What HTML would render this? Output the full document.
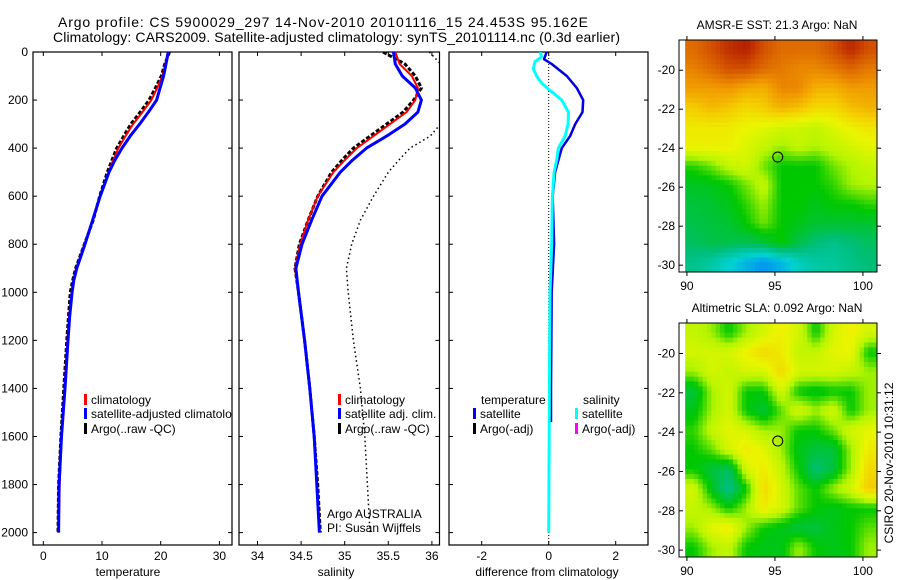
<!DOCTYPE html>
<html><head><meta charset="utf-8">
<style>
html,body{margin:0;padding:0;background:#fff;}
svg{display:block;font-family:"Liberation Sans",sans-serif;}
</style></head>
<body>
<svg id="fig" width="900" height="580" viewBox="0 0 900 580">
<text x="58" y="27" font-size="14" textLength="530">Argo profile: CS 5900029_297 14-Nov-2010 20101116_15 24.453S 95.162E</text>
<text x="53" y="42" font-size="14" textLength="567">Climatology: CARS2009. Satellite-adjusted climatology: synTS_20101114.nc (0.3d earlier)</text>
<g id="g"></g>
</svg>
<script>
// ---------- data ----------
const depths = [0,50,100,150,200,250,300,350,400,450,500,600,700,800,900,1000,1200,1400,1600,1800,2000];
const tempDepths = [0,50,100,150,200,250,300,350,400,450,500,600,700,800,900,950,1000,1100,1200,1400,1600,1800,2000];
const tempClim = [21.2,20.8,20.3,19.4,18.4,16.9,15.3,14.0,12.8,11.9,11.1,9.7,8.4,7.0,5.6,5.1,4.8,4.4,4.1,3.6,3.1,2.8,2.6];
const tempSat  = [21.3,20.9,20.5,19.9,19.3,17.9,16.4,14.8,13.4,12.2,11.2,9.7,8.4,7.1,5.7,5.2,4.9,4.5,4.2,3.7,3.1,2.7,2.6];
const tempArgo = [21.5,20.7,20.1,19.1,18.0,16.5,14.9,13.7,12.5,11.7,10.9,9.6,8.5,7.0,5.5,5.0,4.6,4.3,4.0,3.5,3.0,2.6,2.5];
const salClim = [35.58,35.63,35.77,35.84,35.81,35.71,35.52,35.33,35.14,35.0,34.87,34.69,34.58,34.49,34.43,34.47,34.54,34.60,34.65,34.68,34.71];
const salSat  = [35.56,35.58,35.66,35.81,35.88,35.84,35.69,35.48,35.25,35.09,34.95,34.74,34.62,34.51,34.44,34.47,34.54,34.60,34.65,34.68,34.71];
const salArgo = [35.44,35.69,35.81,35.88,35.79,35.67,35.48,35.29,35.10,34.97,34.85,34.69,34.58,34.48,34.43,34.47,34.54,34.60,34.65,34.69,34.72];
const salDotted = [35.97,36.1,36.3,36.3,36.25,36.18,36.1,35.98,35.75,35.62,35.5,35.33,35.18,35.08,35.02,35.04,35.1,35.18,35.23,35.26,35.29];
const tDiffDepths = [0,30,50,100,150,200,250,300,350,400,450,500,600,800,1000,1400,1540];
const tDiffSat = [-0.06,-0.14,0.09,0.54,0.84,1.03,1.01,0.79,0.64,0.39,0.29,0.19,0.12,0.16,0.09,0.07,0.07];
const sDiffDepths = [0,20,40,70,100,130,160,200,250,300,350,400,450,500,600,800,1000,1400,2000];
const sDiffSat = [-0.26,-0.21,-0.41,-0.46,-0.36,-0.21,0.04,0.39,0.59,0.58,0.49,0.29,0.24,0.16,0.11,0.09,0.04,0.02,0.0];
const depthTicks = [0,200,400,600,800,1000,1200,1400,1600,1800,2000];
const tempTicks = [0,10,20,30];
const salTicks = [34,34.5,35,35.5,36];
const diffTicks = [-2,0,2];
const latTicks = [-20,-22,-24,-26,-28,-30];
const lonTicks = [90,95,100];
const sstGrid = [
 [0.86,0.9,0.94,0.96,0.9,0.86,0.86,0.86,0.9,0.95,0.9],
 [0.83,0.86,0.9,0.9,0.86,0.84,0.82,0.82,0.84,0.87,0.84],
 [0.79,0.79,0.8,0.77,0.76,0.82,0.82,0.76,0.76,0.79,0.79],
 [0.72,0.75,0.73,0.7,0.72,0.76,0.74,0.7,0.7,0.74,0.76],
 [0.67,0.67,0.67,0.65,0.64,0.62,0.61,0.6,0.63,0.66,0.68],
 [0.66,0.66,0.66,0.63,0.6,0.57,0.6,0.58,0.6,0.62,0.64],
 [0.52,0.55,0.6,0.62,0.55,0.5,0.5,0.5,0.55,0.58,0.6],
 [0.47,0.48,0.5,0.55,0.6,0.5,0.5,0.5,0.52,0.57,0.58],
 [0.45,0.46,0.48,0.52,0.57,0.5,0.5,0.48,0.5,0.5,0.52],
 [0.44,0.45,0.46,0.5,0.55,0.5,0.48,0.46,0.46,0.46,0.46],
 [0.42,0.44,0.44,0.43,0.45,0.5,0.44,0.4,0.38,0.4,0.42],
 [0.38,0.35,0.3,0.25,0.2,0.25,0.32,0.35,0.36,0.38,0.4]];
const slaGrid = [
 [0.6,0.57,0.5,0.57,0.62,0.66,0.62,0.5,0.62,0.66,0.62],
 [0.62,0.62,0.62,0.66,0.7,0.67,0.6,0.6,0.64,0.65,0.5],
 [0.57,0.62,0.6,0.62,0.62,0.7,0.62,0.62,0.62,0.6,0.57],
 [0.45,0.57,0.62,0.5,0.5,0.62,0.5,0.48,0.5,0.5,0.57],
 [0.48,0.57,0.62,0.5,0.45,0.54,0.62,0.57,0.62,0.5,0.57],
 [0.52,0.6,0.64,0.62,0.57,0.57,0.5,0.5,0.55,0.62,0.64],
 [0.5,0.54,0.62,0.67,0.64,0.57,0.48,0.45,0.45,0.57,0.67],
 [0.5,0.45,0.42,0.62,0.67,0.6,0.5,0.4,0.45,0.57,0.7],
 [0.62,0.48,0.38,0.5,0.7,0.62,0.54,0.5,0.57,0.62,0.72],
 [0.6,0.57,0.5,0.57,0.67,0.62,0.54,0.5,0.48,0.5,0.5],
 [0.57,0.64,0.67,0.57,0.5,0.48,0.45,0.45,0.48,0.5,0.54],
 [0.5,0.57,0.6,0.5,0.48,0.48,0.57,0.5,0.48,0.5,0.57]];
const argoLon = 95.162, argoLat = -24.453;

// ---------- helpers ----------
const NS = "http://www.w3.org/2000/svg";
const root = document.getElementById("g");
function mk(tag, attrs, parent){
  const e = document.createElementNS(NS, tag);
  for (const k in attrs) e.setAttribute(k, attrs[k]);
  (parent||root).appendChild(e);
  return e;
}
const yD = d => 52 + 0.2403 * d;
const xT = t => 43.3 + 5.87 * t;
const xS = s => 257.5 + 87.2 * (s - 34);
const xDf = v => 548.7 + 33.5 * v;

function panel(name, x0, x1, xs, ticks, fmt, label, labelX, yLabels){
  const clipId = name + "-clip";
  const cp = mk("clipPath", {id: clipId});
  mk("rect", {x: x0, y: 52, width: x1 - x0, height: 493}, cp);
  const fr = mk("rect", {x: x0, y: 52, width: x1 - x0, height: 493, fill: "#fff", stroke: "#000", "stroke-width": 1.2});
  
  
  ticks.forEach(t => {
    const x = xs(t);
    mk("line", {x1: x, x2: x, y1: 545, y2: 541, stroke: "#000"});
    mk("line", {x1: x, x2: x, y1: 52, y2: 56, stroke: "#000"});
    const tx = mk("text", {x: x, y: 560, "font-size": 12, "text-anchor": "middle"});
    tx.textContent = fmt(t);
    
    
  });
  depthTicks.forEach(d => {
    const y = yD(d);
    mk("line", {x1: x0, x2: x0 + 4, y1: y, y2: y, stroke: "#000"});
    mk("line", {x1: x1, x2: x1 - 4, y1: y, y2: y, stroke: "#000"});
    if (yLabels) {
      const tx = mk("text", {x: 28, y: y + 4, "font-size": 12, "text-anchor": "end"});
      tx.textContent = d;
      
      
    }
  });
  const lb = mk("text", {x: labelX, y: 576, "font-size": 12, "text-anchor": "middle"});
  lb.textContent = label;
  
  
  const g = mk("g", {"clip-path": "url(#" + clipId + ")"});
  return g;
}
function line(g, ds, vs, xs, color, w, dash, nm){
  const pts = ds.map((d, i) => xs(vs[i]).toFixed(1) + "," + yD(d).toFixed(1)).join(" ");
  const p = mk("polyline", {points: pts, fill: "none", stroke: color, "stroke-width": w, "stroke-linejoin": "round"}, g);
  if (dash) p.setAttribute("stroke-dasharray", dash);
  
  
}
function legendItem(g, x, y, color, text, nm){
  mk("rect", {x: x, y: y - 10, width: 3, height: 11, fill: color}, g);
  const t = mk("text", {x: x + 7, y: y, "font-size": 12}, g);
  t.textContent = text;
  
  
}

// ---------- panel 1: temperature ----------
const g1 = panel("temperature-panel", 33, 232, xT, tempTicks, v => v, "temperature", 128, true);
line(g1, tempDepths, tempArgo, xT, "#000", 3, "4,2", "argo-temperature-line");
line(g1, tempDepths, tempClim, xT, "#f00", 2, null, "climatology-temperature-line");
line(g1, tempDepths, tempSat, xT, "#00f", 3, null, "satellite-temperature-line");
legendItem(g1, 84, 404, "#f00", "climatology", "legend-climatology");
legendItem(g1, 84, 418, "#00f", "satellite-adjusted climatology", "legend-satellite-adjusted");
legendItem(g1, 84, 433, "#000", "Argo(..raw -QC)", "legend-argo");

// ---------- panel 2: salinity ----------
const g2 = panel("salinity-panel", 239, 439.5, xS, salTicks, v => v, "salinity", 336, false);
line(g2, depths, salDotted, xS, "#000", 1.5, "1.5,3", "dotted-salinity-line");
line(g2, depths, salArgo, xS, "#000", 3, "4,2", "argo-salinity-line");
line(g2, depths, salClim, xS, "#f00", 2, null, "climatology-salinity-line");
line(g2, depths, salSat, xS, "#00f", 3, null, "satellite-salinity-line");
legendItem(g2, 338, 404, "#f00", "climatology", "legend-sal-climatology");
legendItem(g2, 338, 418, "#00f", "satellite adj. clim.", "legend-sal-satellite");
legendItem(g2, 338, 433, "#000", "Argo(..raw -QC)", "legend-sal-argo");
const a1 = mk("text", {x: 327, y: 518, "font-size": 12}, g2);
a1.textContent = "Argo AUSTRALIA";


const a2 = mk("text", {x: 327, y: 532, "font-size": 12}, g2);
a2.textContent = "PI: Susan Wijffels";



// ---------- panel 3: difference ----------
const g3 = panel("difference-panel", 449, 648, xDf, diffTicks, v => (v < 0 ? "-" + (-v) : v), "difference from climatology", 547, false);
mk("line", {x1: xDf(0), x2: xDf(0), y1: 52, y2: 545, stroke: "#000", "stroke-width": 1, "stroke-dasharray": "1,2"}, g3);
line(g3, tDiffDepths, tDiffSat, xDf, "#00d", 2.5, null, "temperature-difference-line");
line(g3, sDiffDepths, sDiffSat, xDf, "#0ff", 3, null, "salinity-difference-line");
const lt = mk("text", {x: 481, y: 404, "font-size": 12}, g3);
lt.textContent = "temperature";


const ls = mk("text", {x: 583, y: 404, "font-size": 12}, g3);
ls.textContent = "salinity";


legendItem(g3, 473, 418, "#00f", "satellite", "legend-temp-satellite");
legendItem(g3, 473, 433, "#000", "Argo(-adj)", "legend-temp-argo");
legendItem(g3, 575, 418, "#0ff", "satellite", "legend-sal-diff-satellite");
legendItem(g3, 575, 433, "#f0f", "Argo(-adj)", "legend-sal-diff-argo");

// ---------- maps ----------
const stops = [[0,[0,60,220]],[0.2,[0,150,240]],[0.3,[0,210,210]],[0.4,[0,190,120]],[0.5,[0,200,0]],[0.58,[180,245,0]],[0.65,[235,245,0]],[0.72,[245,205,0]],[0.8,[240,150,0]],[0.9,[210,80,0]],[1,[160,0,0]]];
function cmap(v){
  v = Math.max(0, Math.min(1, v));
  for (let i = 1; i < stops.length; i++){
    if (v <= stops[i][0]){
      const a = stops[i-1], b = stops[i], f = (v - a[0]) / (b[0] - a[0]);
      const c = a[1].map((q, k) => Math.round(q + (b[1][k] - q) * f));
      return "rgb(" + c.join(",") + ")";
    }
  }
  return "rgb(160,0,0)";
}
function sample(grid, r, c){
  const R = grid.length, C = grid[0].length;
  r = Math.max(0, Math.min(R - 1, r)); c = Math.max(0, Math.min(C - 1, c));
  const r0 = Math.floor(r), c0 = Math.floor(c), r1 = Math.min(R - 1, r0 + 1), c1 = Math.min(C - 1, c0 + 1);
  const fr = r - r0, fc = c - c0;
  return grid[r0][c0]*(1-fr)*(1-fc) + grid[r0][c1]*(1-fr)*fc + grid[r1][c0]*fr*(1-fc) + grid[r1][c1]*fr*fc;
}
function drawMap(name, grid, top, bottom, title){
  const lonMin = 89.55, lonMax = 100.8, latTop = -18.45, latBot = -30.35;
  const xL = lon => 679 + (lon - lonMin) * (877 - 679) / (lonMax - lonMin);
  const yL = lat => top + (latTop - lat) * (bottom - top) / (latTop - latBot);
  const g = mk("g", {});
  
  
  const imgLon0 = 89.9, R = grid.length, C = grid[0].length, sub = 4;
  const dLon = (lonMax - imgLon0) / C, dLat = (latTop - latBot) / R;
  for (let i = 0; i < R * sub; i++){
    for (let j = 0; j < C * sub; j++){
      const v = sample(grid, (i + 0.5) / sub - 0.5, (j + 0.5) / sub - 0.5);
      const lo0 = imgLon0 + j * dLon / sub, la0 = latTop - i * dLat / sub;
      const x = xL(lo0), y = yL(la0);
      const cell = mk("rect", {x: x.toFixed(2), y: y.toFixed(2), width: (xL(lo0 + dLon/sub) - x + 0.4).toFixed(2), height: (yL(la0 - dLat/sub) - y + 0.4).toFixed(2), fill: cmap(v)}, g);
      
      
    }
  }
  mk("rect", {x: 679, y: top, width: 198, height: bottom - top, fill: "none", stroke: "#000", "stroke-width": 1});
  latTicks.forEach(l => {
    const y = yL(l);
    mk("line", {x1: 877, x2: 881, y1: y, y2: y, stroke: "#000"});
    mk("line", {x1: 679, x2: 683, y1: y, y2: y, stroke: "#000"});
    const t = mk("text", {x: 675, y: y + 4, "font-size": 12, "text-anchor": "end"});
    t.textContent = "-" + (-l);
    
    
  });
  lonTicks.forEach(l => {
    const x = xL(l);
    mk("line", {x1: x, x2: x, y1: bottom, y2: bottom + 4, stroke: "#000"});
    mk("line", {x1: x, x2: x, y1: top, y2: top - 4, stroke: "#000"});
    const t = mk("text", {x: x, y: bottom + 18, "font-size": 12, "text-anchor": "middle"});
    t.textContent = l;
    
    
  });
  const c = mk("circle", {cx: xL(argoLon), cy: yL(argoLat), r: 5, fill: "none", stroke: "#000", "stroke-width": 1});
  
  
  const tt = mk("text", {x: 777, y: top - 11, "font-size": 12, "text-anchor": "middle"});
  tt.textContent = title;
  
  
}
drawMap("sst-map", sstGrid, 40, 272, "AMSR-E SST: 21.3 Argo: NaN");
drawMap("sla-map", slaGrid, 323, 557, "Altimetric SLA: 0.092 Argo: NaN");
const cs = mk("text", {x: 0, y: 0, "font-size": 12, "text-anchor": "middle", transform: "translate(893,463) rotate(-90)"});
cs.textContent = "CSIRO 20-Nov-2010 10:31:12";


</script>
</body></html>
